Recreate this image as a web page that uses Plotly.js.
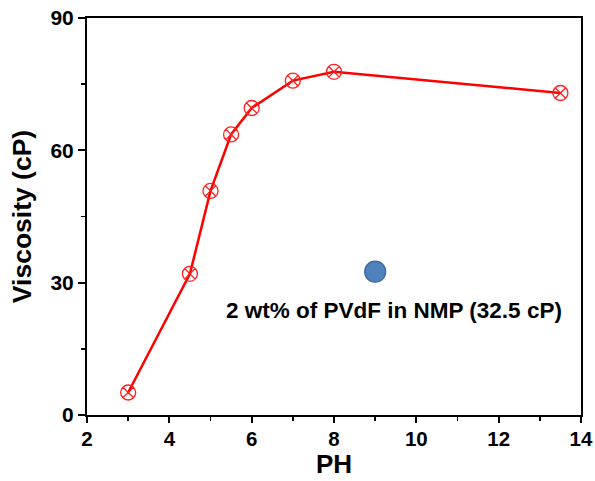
<!DOCTYPE html>
<html>
<head>
<meta charset="utf-8">
<script src="https://cdn.plot.ly/plotly-3.0.1.min.js"></script>
<style>html,body{margin:0;padding:0;background:#fff;}#chart{width:595px;height:481px;}</style>
</head>
<body>
<div id="chart"></div>
<script>
const ph = [3, 4.5, 5, 5.5, 6, 7, 8, 13.5];
const viscosity = [5.1, 32.0, 50.8, 63.6, 69.6, 75.8, 77.8, 73.0];
const refX = [9];
const refY = [32.5];
const refLabel = "2 wt% of PVdF in NMP (32.5 cP)";
const xTitle = "PH";
const yTitle = "Viscosity (cP)";
const xTicks = [2, 4, 6, 8, 10, 12, 14];
const yTicks = [0, 30, 60, 90];

const FONT = "Liberation Sans, Arial, sans-serif";

const traces = [
  {
    x: ph, y: viscosity, type: "scatter", mode: "lines+markers",
    line: {color: "#ff0000", width: 2.5},
    marker: {symbol: "circle-x-open", size: 15, color: "#ff2020", line: {width: 1.3, color: "#ff2020"}},
    showlegend: false, cliponaxis: false
  },
  {
    x: refX, y: refY, type: "scatter", mode: "markers",
    marker: {symbol: "circle", size: 21, color: "#4f81bd", line: {width: 1.2, color: "#3a6699"}},
    showlegend: false, cliponaxis: false
  }
];

const layout = {
  width: 595, height: 481,
  margin: {l: 87, r: 14, t: 18, b: 66},
  paper_bgcolor: "#fff", plot_bgcolor: "#fff",
  font: {family: FONT, color: "#000"},
  xaxis: {
    range: [2, 14], tickvals: xTicks, ticktext: xTicks.map(String),
    ticks: "outside", ticklen: 6, tickwidth: 2, tickcolor: "#000",
    ticklabelstandoff: -2,
    minor: {dtick: 1, tick0: 1, ticks: "outside", ticklen: 4, tickwidth: 1.5, tickcolor: "#000"},
    showline: true, linewidth: 2, linecolor: "#000", mirror: true,
    showgrid: false, zeroline: false,
    tickfont: {size: 20.5, family: FONT, weight: "bold", color: "#000"}
  },
  yaxis: {
    range: [0, 90], tickvals: yTicks, ticktext: yTicks.map(String),
    ticks: "outside", ticklen: 7, tickwidth: 2, tickcolor: "#000",
    minor: {dtick: 15, tick0: 15, ticks: "outside", ticklen: 4, tickwidth: 1.5, tickcolor: "#000"},
    showline: true, linewidth: 2, linecolor: "#000", mirror: true,
    showgrid: false, zeroline: false,
    tickfont: {size: 21, family: FONT, weight: "bold", color: "#000"},
    title: {text: yTitle, font: {size: 26.5, family: FONT, weight: "bold", color: "#000"}, standoff: 11}
  },
  annotations: [
    {
      x: refX[0], y: refY[0], xref: "x", yref: "y",
      text: refLabel, showarrow: false,
      xanchor: "center", yanchor: "top", yshift: -24, xshift: 19,
      font: {size: 22.5, family: FONT, weight: "bold", color: "#000"}
    },
    {
      x: 0.5, y: 0, xref: "paper", yref: "paper",
      text: xTitle, showarrow: false,
      xanchor: "center", yanchor: "bottom", yshift: -66,
      font: {size: 26, family: FONT, weight: "bold", color: "#000"}
    }
  ]
};

Plotly.newPlot("chart", traces, layout, {displayModeBar: false, staticPlot: true});
</script>
</body>
</html>
